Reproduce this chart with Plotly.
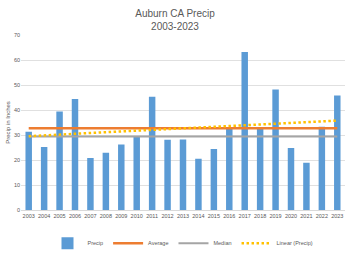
import numpy as np
import plotly.graph_objects as go

years = [str(y) for y in range(2003, 2024)]
precip = [31.3, 25.2, 39.4, 44.4, 20.8, 22.9, 26.2, 29.4, 45.3, 28.1,
          28.2, 20.5, 24.4, 32.4, 63.2, 33.1, 48.2, 24.8, 18.9, 33.3, 45.8]

avg = float(np.mean(precip))
med = float(np.median(precip))
idx = np.arange(len(precip))
slope, intercept = np.polyfit(idx, precip, 1)
trend = intercept + slope * idx

grey = "#595959"
font = "Liberation Sans"

fig = go.Figure()
fig.add_trace(go.Bar(x=years, y=precip, name="Precip",
                     marker=dict(color="#5B9BD5", line=dict(width=0)), width=0.42))
fig.add_trace(go.Scatter(x=years, y=[avg] * len(years), name="Average",
                         mode="lines", line=dict(color="#ED7D31", width=2.5)))
fig.add_trace(go.Scatter(x=years, y=[med] * len(years), name="Median",
                         mode="lines", line=dict(color="#A5A5A5", width=2)))
fig.add_trace(go.Scatter(x=years, y=trend, name="Linear (Precip)",
                         mode="lines", line=dict(color="#FFC000", width=2.5, dash="2.5px,2.5px")))

fig.update_layout(
    width=350, height=254,
    margin=dict(l=21, r=5, t=35, b=44, autoexpand=False),
    paper_bgcolor="white", plot_bgcolor="white",
    font=dict(family=font, color=grey, size=6),
    title=dict(text="Auburn CA Precip<br>2003-2023", x=0.5, xanchor="center",
               y=0.933, yanchor="middle",
               font=dict(size=10, color=grey, family=font)),
    showlegend=True,
    legend=dict(orientation="h", x=0.5, xanchor="center", y=-0.19, yanchor="middle",
                font=dict(size=5.5, color=grey), itemwidth=30, tracegroupgap=0),
)
fig.update_xaxes(type="category", showgrid=False, showline=True, linecolor="#d9d9d9",
                 tickfont=dict(size=5.5, color=grey), ticks="", tickangle=0,
                 automargin=False)
fig.update_yaxes(range=[0, 70], dtick=10, showgrid=True, gridcolor="#e0e0e0",
                 zeroline=False, showline=False, ticks="", automargin=False,
                 tickfont=dict(size=5.5, color=grey),
                 title=dict(text="Precip in Inches", font=dict(size=6, color=grey), standoff=2))

fig.write_html("out.html", config={"displayModeBar": False},
               post_script="document.body.style.margin='0px';")
